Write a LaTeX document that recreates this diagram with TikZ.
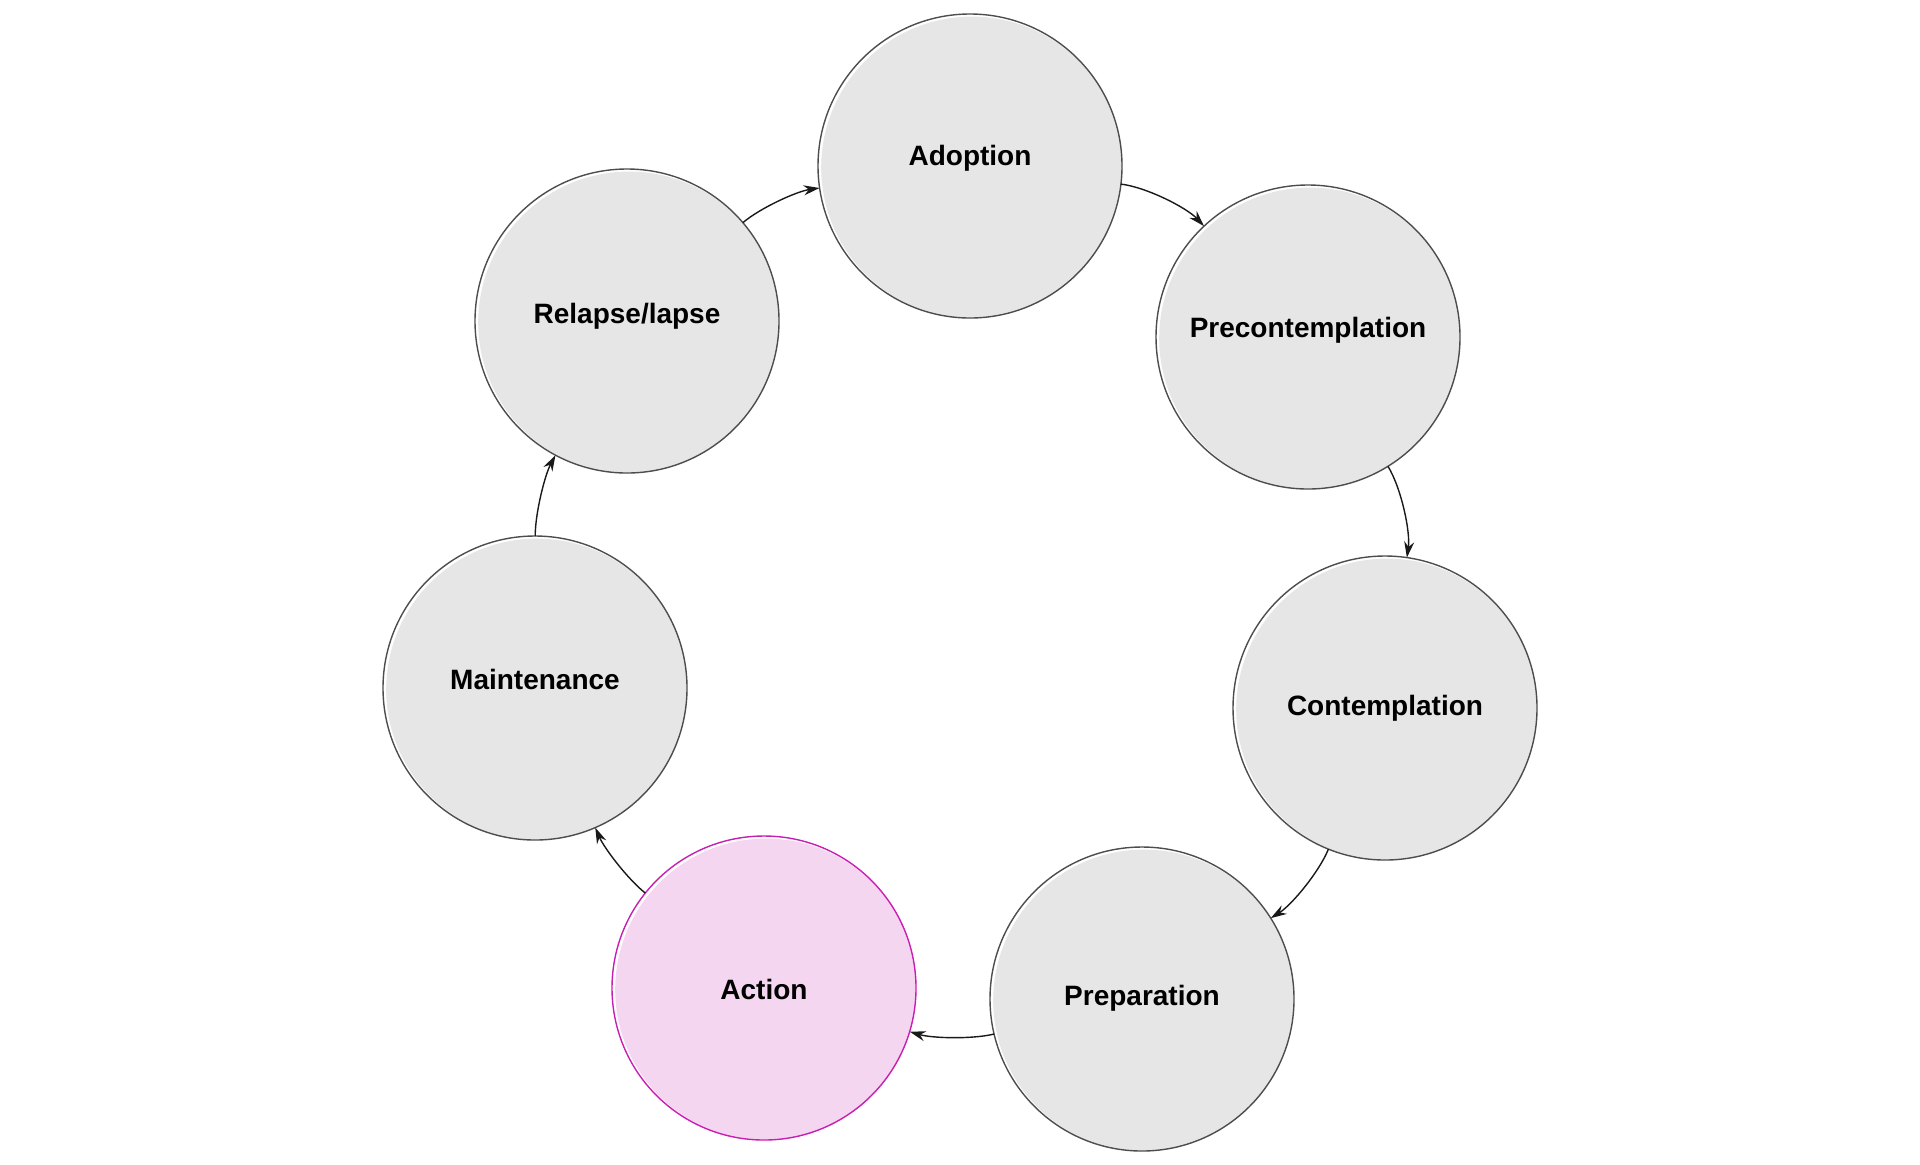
\documentclass[tikz,border=0pt]{standalone}
\usepackage{fontspec}
\setmainfont{Liberation Sans}
\usetikzlibrary{arrows.meta}
\definecolor{stagefill}{HTML}{E6E6E6}
\definecolor{stageline}{HTML}{4D4D4D}
\definecolor{actfill}{HTML}{F5D6F0}
\definecolor{actline}{HTML}{C81EB4}
\begin{document}
\begin{tikzpicture}[x=0.5pt,y=-0.5pt,
	stage/.style={circle,draw=stageline,fill=white,line width=0.7pt,minimum size=152pt,inner sep=0pt,outer sep=0pt,
		path picture={\fill[#1] ([shift={(1pt,-0.7pt)}]path picture bounding box.center) circle (75.4pt);}},
	stage/.default=stagefill,
	actstage/.style={stage=actfill,draw=actline},
	stagetext/.style={anchor=base,inner sep=0pt,font=\fontsize{14}{17}\selectfont\bfseries},
	flow/.style={-{Stealth[length=8pt,width=5pt]},line width=0.7pt,draw=black!90,bend left=#1,looseness=0.7},
	flow/.default=20]
	\useasboundingbox (0,0) rectangle (1920,1164);
	\node[stage] (adopt) at (970,166) {};
	\node[stage] (precon) at (1308,337) {};
	\node[stage] (contem) at (1385,708) {};
	\node[stage] (prep) at (1142,999) {};
	\node[actstage] (act) at (764,988) {};
	\node[stage] (maint) at (535,688) {};
	\node[stage] (relap) at (627,321) {};
	% labels
	\node[stagetext] (adopt-t) at ([yshift=0.5pt]adopt.center) {Adoption};
	\node[stagetext] (precon-t) at ([yshift=0pt]precon.center) {Precontemplation};
	\node[stagetext] (contem-t) at ([yshift=-3.5pt]contem.center) {Contemplation};
	\node[stagetext] (prep-t) at ([yshift=-3pt]prep.center) {Preparation};
	\node[stagetext] (act-t) at ([yshift=-5.5pt]act.center) {Action};
	\node[stagetext] (maint-t) at ([yshift=-0.5pt]maint.center) {Maintenance};
	\node[stagetext] (relap-t) at ([yshift=-1pt]relap.center) {Relapse/lapse};
	% cycle
	\draw[flow=16] (relap) to (adopt);
	\draw[flow] (adopt) to (precon);
	\draw[flow] (precon) to (contem);
	\draw[flow=18] (contem) to (prep);
	\draw[flow=15] (prep) to (act);
	\draw[flow=14] (act) to (maint);
	\draw[flow=14] (maint) to (relap);
\end{tikzpicture}
\end{document}
